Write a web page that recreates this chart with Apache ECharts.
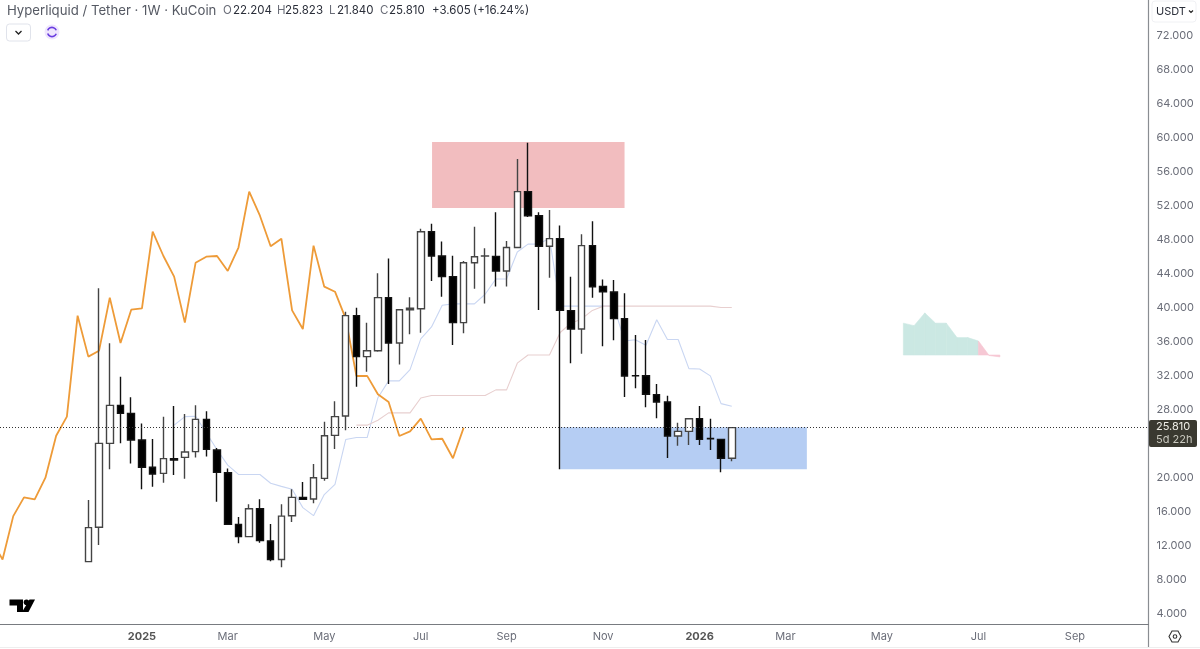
<!DOCTYPE html>
<html>
<head>
<meta charset="utf-8">
<script src="https://cdn.jsdelivr.net/npm/echarts@6/dist/echarts.min.js"></script>
<style>
html,body{margin:0;padding:0;background:#fff}
#main{width:1200px;height:649px}
</style>
</head>
<body>
<div id="main"></div>
<script>
// weekly bars, first bar is the week of 2 Dec 2024
var firstWeek = Date.UTC(2024, 11, 2)
var WEEK = 7 * 24 * 3600 * 1000

var opens = [10.04,14.08,23.96,28.43,27.49,24.35,21.14,20.43,22.16,22.31,22.98,26.78,23.18,20.5,14.43,12.98,16.27,12.47,10.3,15.45,17.6,17.41,19.84,24.9,27.18,38.98,34.16,34.86,41.1,35.76,39.68,39.8,48.86,46.0,43.57,38.16,45.2,45.98,45.96,44.24,47.0,53.57,50.74,47.14,48.04,39.57,37.41,47.22,42.43,41.76,38.63,31.92,31.92,29.69,28.82,24.82,25.37,26.85,24.55,24.43,22.204]
var closes = [14.04,23.96,28.43,27.49,24.35,21.14,20.35,22.16,22.0,22.94,26.78,23.25,20.55,14.43,12.98,16.27,12.51,10.3,15.4,17.6,17.37,19.92,24.86,27.1,38.98,34.16,34.86,41.1,35.76,39.68,39.85,48.86,46.0,43.57,38.16,45.2,45.92,46.0,44.24,47.0,53.57,50.74,47.14,48.04,39.6,37.41,47.22,42.39,41.8,38.63,31.88,31.9,29.73,28.82,24.82,25.37,26.86,24.43,24.5,22.2,25.81]
var lows = [10.0,12.0,20.9,23.96,21.6,18.55,18.86,19.33,20.24,19.8,22.3,22.4,17.1,14.35,12.2,12.9,12.27,10.1,9.37,14.7,17.3,16.9,19.57,23.3,25.5,30.63,32.39,34.75,30.94,33.24,36.8,36.98,43.06,41.2,35.53,36.9,42.16,40.4,42.4,42.4,47.0,50.6,39.65,43.45,20.9,33.37,34.5,41.1,35.37,36.08,29.41,30.44,28.2,26.9,22.24,23.69,23.76,23.76,23.18,20.55,21.84]
var highs = [17.29,42.2,35.73,31.8,29.37,26.3,24.47,27.1,28.35,27.41,28.43,27.73,23.4,21.0,15.3,16.78,17.37,14.47,16.8,18.55,19.4,21.53,26.5,28.9,39.45,39.9,38.16,43.96,45.72,39.76,41.14,49.2,49.8,47.7,46.04,45.4,49.45,46.9,51.14,47.76,57.41,59.33,51.14,51.4,49.6,43.57,48.55,50.1,43.25,43.18,41.61,36.71,36.12,30.94,29.57,26.39,26.9,28.35,26.86,24.43,25.823]

// ichimoku lines, each starts at its own bar number
var conversionStart = 8
var conversionLine = [26.1,27.1,27.14,25.2,23.2,21.39,20.3,20.3,20.3,19.27,18.9,18.55,16.4,15.45,17.93,19.13,24.41,24.64,24.64,29.33,31.31,31.31,32.64,36.25,37.65,40.2,40.37,40.37,40.37,41.5,43.3,43.3,46.47,47.4,47.4,48.1,40.1,40.1,40.1,40.1,40.1,40.1,36.0,36.15,35.5,38.5,36.17,36.17,32.75,32.7,31.9,28.63,28.33]
var baseStart = 25
var baseLine = [26.1,26.1,26.67,27.55,27.55,27.55,29.29,29.59,29.59,29.59,29.59,29.59,29.59,30.25,30.25,33.39,34.35,34.35,34.35,37.0,38.1,38.6,39.6,40.1,40.1,40.1,40.1,40.1,40.1,40.1,40.1,40.1,40.1,40.1,39.94,39.94]
var laggingStart = -9
var laggingSpan = [12.51,10.3,15.4,17.6,17.37,19.92,24.86,27.1,38.98,34.16,34.86,41.1,35.76,39.68,39.85,48.86,46.0,43.57,38.16,45.2,45.92,46.0,44.24,47.0,53.57,50.74,47.14,48.04,39.6,37.41,47.22,42.39,41.8,38.63,31.88,31.9,29.73,28.82,24.82,25.37,26.86,24.43,24.5,22.2,25.81]
var cloudStart = 76
var leadingA = [38.1,37.8,39.3,38.1,38.1,36.4,36.4,36.0,34.29,34.13]
var leadingB = [34.35,34.35,34.35,34.35,34.35,34.35,34.35,34.35,34.35,34.35]

var yTicks = [4,8,12,16,20,28,32,36,40,44,48,52,56,60,64,68,72]
var xTicks = ['2025-01-06','2025-03-03','2025-05-05','2025-07-07','2025-09-01','2025-11-03','2026-01-05','2026-03-02','2026-05-04','2026-07-06','2026-09-07']
var xTickLabels = ['2025','Mar','May','Jul','Sep','Nov','2026','Mar','May','Jul','Sep']

var supplyZone = {from: 32.05, to: 50, top: 59.41, bottom: 51.65}
var demandZone = {from: 44, to: 67, top: 25.85, bottom: 20.9}
var lastPrice = 25.81

function weekAt(i) { return firstWeek + i * WEEK }
function line(values, start) {
	return values.map(function (v, i) { return [weekAt(start + i), v] })
}

var candles = opens.map(function (o, i) {
	return [weekAt(i), o, closes[i], lows[i], highs[i]]
})
var cloud = []
for (var i = 0; i < leadingA.length - 1; i++) {
	cloud.push([weekAt(cloudStart + i), weekAt(cloudStart + i + 1), leadingA[i], leadingB[i], leadingA[i + 1], leadingB[i + 1]])
}
var xTickTimes = xTicks.map(function (d) { return Date.parse(d) })

var FONT = 'Inter'
var grey = '#6a6d78'
var dark = '#2a2e39'

function txt(x, text, color, size) {
	return {type: 'text', x: x, y: 11, style: {text: text, fill: color, font: (size || 11.5) + 'px ' + FONT, textVerticalAlign: 'middle'}}
}

var myChart = echarts.init(document.getElementById('main'))
var option = {
	animation: false,
	backgroundColor: '#fff',
	grid: {left: 0, right: 51.5, top: 0, bottom: 25},
	xAxis: {
		type: 'value',
		min: firstWeek - 57.66 * 24 * 3600 * 1000,
		max: firstWeek + 692 * 24 * 3600 * 1000,
		axisLine: {show: true, lineStyle: {color: '#787b80', width: 1.2}},
		axisTick: {show: false},
		splitLine: {show: false},
		axisLabel: {
			customValues: xTickTimes,
			color: grey,
			fontFamily: FONT,
			fontSize: 11,
			margin: 7,
			hideOverlap: false,
			formatter: function (v) {
				var t = xTickLabels[xTickTimes.indexOf(v)]
				return t.length === 4 ? '{y|' + t + '}' : t
			},
			rich: {y: {fontWeight: 'bold', color: '#555', fontFamily: FONT, fontSize: 11}}
		}
	},
	yAxis: {
		type: 'value',
		position: 'right',
		min: 2.706,
		max: 76.118,
		axisLine: {show: true, lineStyle: {color: '#8a8d92', width: 1.2}},
		axisTick: {show: false},
		splitLine: {show: false},
		axisLabel: {
			customValues: yTicks,
			color: grey,
			fontFamily: FONT,
			fontSize: 11,
			margin: 8,
			formatter: function (v) { return '{p|' + v.toFixed(3) + '}' },
			rich: {p: {color: grey, fontFamily: FONT, fontSize: 11, padding: [2, 0, 0, 0]}}
		}
	},
	series: [
		{
			// the two drawn zones, under everything else
			type: 'line',
			data: [],
			z: 1,
			silent: true,
			markArea: {
				silent: true,
				data: [
					[{xAxis: weekAt(supplyZone.from), yAxis: supplyZone.top, itemStyle: {color: '#f2bdbf'}}, {xAxis: weekAt(supplyZone.to), yAxis: supplyZone.bottom}],
					[{xAxis: weekAt(demandZone.from), yAxis: demandZone.top, itemStyle: {color: '#b5cdf3'}}, {xAxis: weekAt(demandZone.to), yAxis: demandZone.bottom}]
				]
			}
		},
		{
			type: 'custom',
			z: 1,
			silent: true,
			data: cloud,
			encode: {x: [0, 1], y: [2, 3, 4, 5]},
			renderItem: function (params, api) {
				var t0 = api.value(0), t1 = api.value(1)
				var a1 = api.value(4), b1 = api.value(5)
				var c = a1 >= b1 ? '#cbe8e3' : '#f6c8d4'
				return {
					type: 'polygon',
					shape: {points: [api.coord([t0, api.value(2)]), api.coord([t1, a1]), api.coord([t1, b1]), api.coord([t0, api.value(3)])]},
					style: {fill: c, stroke: c, lineWidth: 0.6}
				}
			}
		},
		{type: 'line', z: 2, silent: true, showSymbol: false, data: line(conversionLine, conversionStart), lineStyle: {color: '#c9d6f2', width: 1.1}},
		{type: 'line', z: 2, silent: true, showSymbol: false, data: line(baseLine, baseStart), lineStyle: {color: '#e8cfcf', width: 1.1}},
		{type: 'line', z: 2, silent: true, showSymbol: false, data: line(laggingSpan, laggingStart), lineStyle: {color: '#ee9b38', width: 1.8}},
		{
			type: 'candlestick',
			z: 3,
			silent: true,
			barWidth: 7,
			encode: {x: 0, y: [1, 2, 3, 4]},
			data: candles,
			itemStyle: {color: '#fff', color0: '#000', borderColor: '#444', borderColor0: '#111', borderColorDoji: '#222', borderWidth: 1.4}
		},
		{
			type: 'line',
			data: [],
			z: 5,
			silent: true,
			markLine: {
				silent: true,
				symbol: 'none',
				lineStyle: {color: '#333', type: [1, 2], width: 1},
				data: [{yAxis: lastPrice}],
				label: {show: false}
			}
		}
	],
	graphic: [
		// legend row
		txt(7, 'Hyperliquid / Tether · 1W · KuCoin', '#555963', 13.2),
		txt(223, 'O', grey), txt(233, '22.204', dark),
		txt(277, 'H', grey), txt(285, '25.823', dark),
		txt(329, 'L', grey), txt(337, '21.840', dark),
		txt(380, 'C', grey), txt(389, '25.810', dark),
		txt(432, '+3.605', dark), txt(473, '(+16.24%)', dark),
		// collapse button and purple icon
		{type: 'rect', shape: {x: 6.5, y: 24, width: 24, height: 17, r: 3}, style: {fill: '#fff', stroke: '#e0e3eb'}},
		{type: 'polyline', shape: {points: [[15.5, 31], [18.5, 34], [21.5, 31]]}, style: {stroke: '#222', fill: null, lineWidth: 1.3}},
		{type: 'circle', shape: {cx: 52, cy: 32, r: 7.5}, style: {fill: '#efe6fd'}},
		{type: 'arc', shape: {cx: 52, cy: 32, r: 4.6, startAngle: 3.5, endAngle: 5.9}, style: {stroke: '#6a3de0', fill: null, lineWidth: 1.6}},
		{type: 'arc', shape: {cx: 52, cy: 32, r: 4.6, startAngle: 0.4, endAngle: 2.8}, style: {stroke: '#6a3de0', fill: null, lineWidth: 1.6}},
		// USDT button
		{type: 'rect', shape: {x: 1152, y: 1, width: 44, height: 21, r: 3}, style: {fill: '#fff', stroke: '#f0f1f4'}},
		{type: 'text', x: 1156, y: 12, style: {text: 'USDT', fill: dark, font: '11px ' + FONT, textVerticalAlign: 'middle'}},
		{type: 'polyline', shape: {points: [[1189, 10.5], [1191, 12.5], [1193, 10.5]]}, style: {stroke: '#222', fill: null, lineWidth: 1.1}},
		// last price tag on the scale
		{type: 'rect', z: 100, shape: {x: 1149, y: 420, width: 48, height: 27, r: 2}, style: {fill: '#3a3930'}},
		{type: 'text', z: 101, x: 1156, y: 427, style: {text: lastPrice.toFixed(3), fill: '#f0efe8', font: '11px ' + FONT, textVerticalAlign: 'middle'}},
		{type: 'text', z: 101, x: 1156, y: 440, style: {text: '5d 22h', fill: '#c9c8be', font: '11px ' + FONT, textVerticalAlign: 'middle'}},
		// tail of the price scale border and bottom strip
		{type: 'line', shape: {x1: 1148.5, y1: 624, x2: 1148.5, y2: 647}, style: {stroke: '#8a8d92', lineWidth: 1.2}},
		{type: 'line', shape: {x1: 0, y1: 647.5, x2: 1200, y2: 647.5}, style: {stroke: '#eeeeee', lineWidth: 1}},
		// settings hexagon
		{type: 'polygon', shape: {points: [[1169, 636.5], [1172, 631], [1178, 631], [1181, 636.5], [1178, 642], [1172, 642]]}, style: {fill: '#fff', stroke: '#333', lineWidth: 1.1}},
		{type: 'circle', shape: {cx: 1175, cy: 636.5, r: 1.8}, style: {fill: '#fff', stroke: '#333', lineWidth: 1.1}},
		// tradingview mark
		{type: 'polygon', shape: {points: [[9.5, 599.5], [23, 599.5], [23, 612], [17, 612], [17, 605.5], [9.5, 605.5]]}, style: {fill: '#000'}},
		{type: 'circle', shape: {cx: 26.5, cy: 602.3, r: 2.8}, style: {fill: '#000'}},
		{type: 'polygon', shape: {points: [[29.5, 599.5], [35, 599.5], [28.5, 612], [22, 612]]}, style: {fill: '#000'}}
	]
}
myChart.setOption(option)
</script>
</body>
</html>
